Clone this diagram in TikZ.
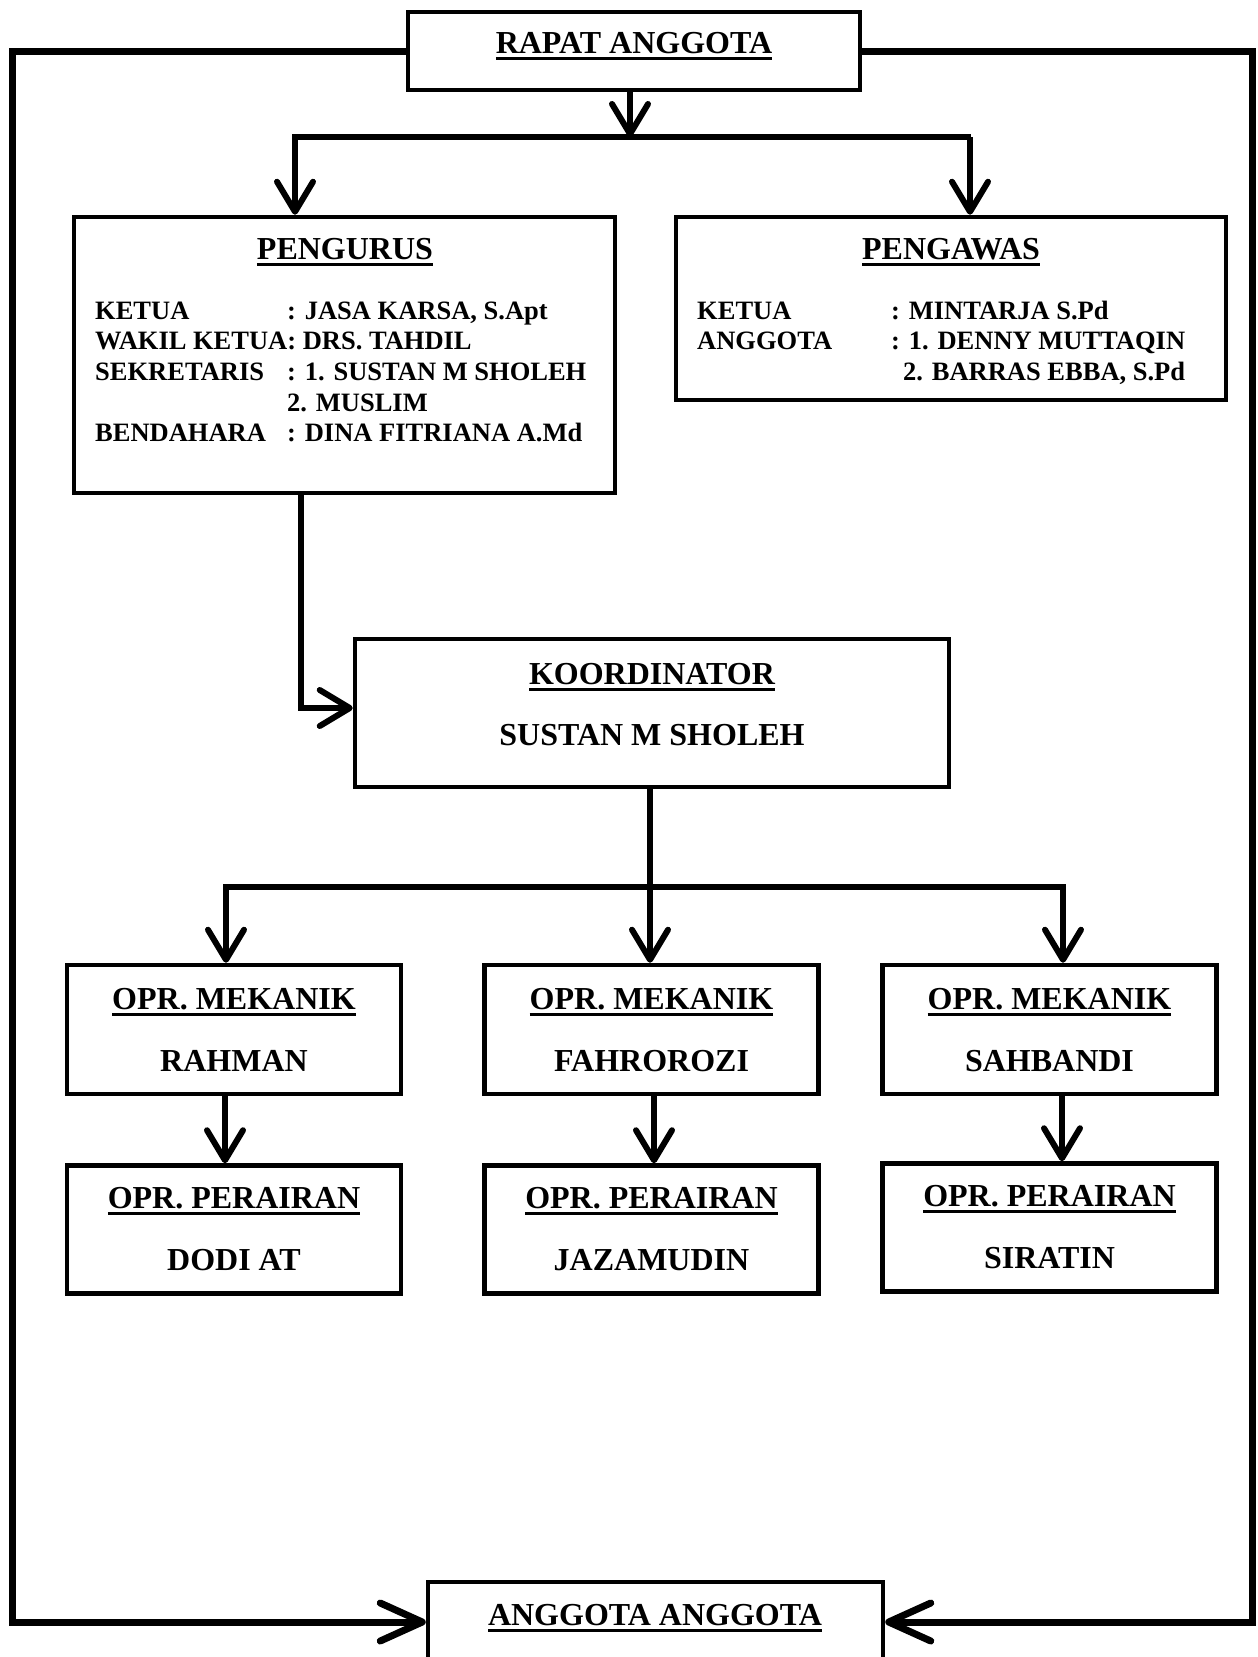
\documentclass[tikz,border=0pt]{standalone}
\usepackage{fontspec}
\setmainfont{Liberation Serif}
\usetikzlibrary{arrows.meta}
\newcommand\ulbox[1]{\setbox0\hbox{#1}\rlap{\vrule width\wd0 height -4pt depth 6.8pt}\box0}
\tikzset{
  boxnode/.style={draw, line width=4.5pt, inner sep=0pt, fill=white},
  conn/.style={line width=6pt},
  arr/.style={conn, -{Straight Barb[length=30pt,width=36pt,round]}},
  framearr/.style={line width=7pt, -{Straight Barb[length=42pt,width=38pt,round]}},
  ttl/.style={font=\fontsize{32}{36}\selectfont\bfseries, inner sep=0pt, anchor=base},
  body/.style={font=\fontsize{26.5}{30}\selectfont\bfseries, inner sep=0pt, anchor=base west},
}
\begin{document}
\begin{tikzpicture}[x=1pt,y=-1pt]
\useasboundingbox (0,0) rectangle (1258,1657);
\fill[white] (0,0) rectangle (1258,1657);
\clip (0,0) rectangle (1258,1657);

% boxes
\node[boxnode, minimum width=452pt, minimum height=78pt] (rapat) at (634,51) {};
\node[boxnode, minimum width=541pt, minimum height=276pt] (pengurus) at (344.5,355) {};
\node[boxnode, minimum width=550pt, minimum height=183pt] (pengawas) at (951,308.5) {};
\node[boxnode, minimum width=594pt, minimum height=148pt] (koord) at (652,713) {};
\node[boxnode, minimum width=334pt, minimum height=129pt] (mek1) at (234,1029.5) {};
\node[boxnode, minimum width=334pt, minimum height=129pt] (mek2) at (651.5,1029.5) {};
\node[boxnode, minimum width=334pt, minimum height=129pt] (mek3) at (1049.5,1029.5) {};
\node[boxnode, minimum width=334pt, minimum height=128pt] (per1) at (234,1229.5) {};
\node[boxnode, minimum width=334pt, minimum height=128pt] (per2) at (651.5,1229.5) {};
\node[boxnode, minimum width=334pt, minimum height=128pt] (per3) at (1049.5,1227.5) {};
\node[boxnode, minimum width=455pt, minimum height=80pt] (anggota) at (655.5,1622) {};

% texts
\node[ttl] (trapat) at (634,53) {\ulbox{RAPAT ANGGOTA}};
\node[ttl] (tpengurus) at (345,259) {\ulbox{PENGURUS}};
\node[ttl] (tpengawas) at (951,259) {\ulbox{PENGAWAS}};

\node[body] (pa1) at (95,319) {KETUA};
\node[body] (pb1) at (287,319) {: JASA KARSA, S.Apt};
\node[body] (pa2) at (95,349) {WAKIL KETUA: DRS. TAHDIL};
\node[body] (pa3) at (95,380) {SEKRETARIS};
\node[body] (pb3) at (287,380) {: 1. SUSTAN M SHOLEH};
\node[body] (pb4) at (287,411) {2. MUSLIM};
\node[body] (pa5) at (95,441) {BENDAHARA};
\node[body] (pb5) at (287,441) {: DINA FITRIANA A.Md};

\node[body] (wa1) at (697,319) {KETUA};
\node[body] (wb1) at (891,319) {: MINTARJA S.Pd};
\node[body] (wa2) at (697,349) {ANGGOTA};
\node[body] (wb2) at (891,349) {: 1. DENNY MUTTAQIN};
\node[body] (wb3) at (903,380) {2. BARRAS EBBA, S.Pd};

\node[ttl] (tkoord) at (652,684) {\ulbox{KOORDINATOR}};
\node[ttl] (nkoord) at (652,745) {SUSTAN M SHOLEH};

\node[ttl] (tmek1) at (234,1009) {\ulbox{OPR. MEKANIK}};
\node[ttl] (nmek1) at (234,1071) {RAHMAN};
\node[ttl] (tmek2) at (651.5,1009) {\ulbox{OPR. MEKANIK}};
\node[ttl] (nmek2) at (651.5,1071) {FAHROROZI};
\node[ttl] (tmek3) at (1049.5,1009) {\ulbox{OPR. MEKANIK}};
\node[ttl] (nmek3) at (1049.5,1071) {SAHBANDI};

\node[ttl] (tper1) at (234,1208) {\ulbox{OPR. PERAIRAN}};
\node[ttl] (nper1) at (234,1270) {DODI AT};
\node[ttl] (tper2) at (651.5,1208) {\ulbox{OPR. PERAIRAN}};
\node[ttl] (nper2) at (651.5,1270) {JAZAMUDIN};
\node[ttl] (tper3) at (1049.5,1206) {\ulbox{OPR. PERAIRAN}};
\node[ttl] (nper3) at (1049.5,1268) {SIRATIN};

\node[ttl] (tanggota) at (655,1625) {\ulbox{ANGGOTA ANGGOTA}};

% connectors top
\coordinate (barM) at (630,137);
\coordinate (barL) at (292,137);
\coordinate (barR) at (971,137);
\coordinate (dropL) at (295,137);
\coordinate (dropR) at (970,137);
\draw[conn] (barL) -- (barR);
\draw[arr] (rapat.south -| barM) -- (barM);
\draw[arr] (dropL) -- (dropL |- pengurus.north);
\draw[arr] (dropR) -- (dropR |- pengawas.north);

% pengurus -> koordinator
\coordinate (pk) at (301,708);
\draw[arr] (pengurus.south -| pk) -- (pk) -- (pk -| koord.west);

% koordinator -> mekanik
\coordinate (kb) at (650,887);
\coordinate (kbL) at (226,887);
\coordinate (kbR) at (1063,887);
\draw[conn] (koord.south -| kb) -- (kb);
\draw[conn, line cap=rect] (kbL) -- (kbR);
\draw[arr] (kbL) -- (kbL |- mek1.north);
\draw[arr] (kb) -- (kb |- mek2.north);
\draw[arr] (kbR) -- (kbR |- mek3.north);

% mekanik -> perairan
\coordinate (d1) at (225,1100);
\coordinate (d2) at (654,1100);
\coordinate (d3) at (1062,1100);
\draw[arr] (mek1.south -| d1) -- (d1 |- per1.north);
\draw[arr] (mek2.south -| d2) -- (d2 |- per2.north);
\draw[arr] (mek3.south -| d3) -- (d3 |- per3.north);

% outer frame
\coordinate (fl) at (12,1622);
\coordinate (fr) at (1252,1622);
\draw[framearr] (rapat.west) -| (fl) -- (anggota.west);
\draw[framearr] (rapat.east) -| (fr) -- (anggota.east);
\end{tikzpicture}
\end{document}
